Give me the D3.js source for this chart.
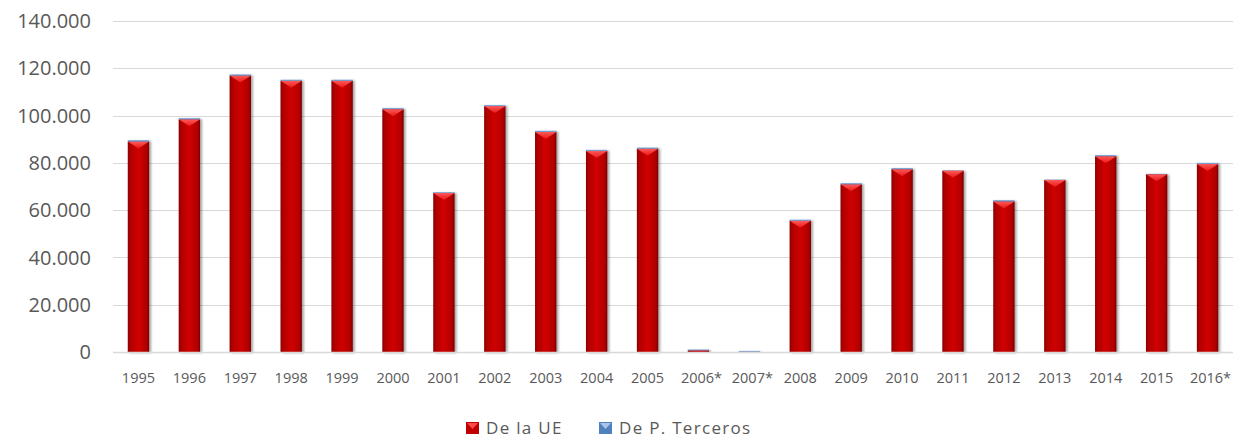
<!DOCTYPE html>
<html>
<head>
<meta charset="utf-8">
<script src="https://cdn.jsdelivr.net/npm/d3@7"></script>
<style>
  body { margin: 0; background: #fff; }
  text { font-family: "Open Sans", sans-serif; fill: #595959; }
</style>
</head>
<body>
<svg id="chart" width="1238" height="439"></svg>
<script>
// years (asterisk = provisional)
const years = ["1995","1996","1997","1998","1999","2000","2001","2002","2003","2004","2005",
  "2006*","2007*","2008","2009","2010","2011","2012","2013","2014","2015","2016*"];
// De la UE
const fromEU = [89000, 98400, 116900, 114700, 114700, 102700, 67300, 104000, 93100, 85000, 86000,
  700, 100, 55500, 70900, 77300, 76700, 63700, 72800, 82800, 75200, 79500];
// De P. Terceros
const fromThird = [700, 600, 600, 550, 550, 550, 350, 500, 550, 550, 550,
  450, 400, 550, 600, 550, 150, 600, 200, 550, 200, 550];
const yTicks = [0, 20000, 40000, 60000, 80000, 100000, 120000, 140000];
const seriesNames = ["De la UE", "De P. Terceros"];

const svg = d3.select("#chart");
const plotL = 113, plotR = 1233, plotT = 21, plotB = 352;

const x = d3.scaleBand().domain(years).range([plotL, plotR]).paddingInner(0.58).paddingOuter(0.29);
const y = d3.scaleLinear().domain([0, 140000]).range([plotB, plotT]);

const fmt = v => v === 0 ? "0" : d3.format(",")(v).replace(/,/g, ".");

// defs
const defs = svg.append("defs");
const redGrad = defs.append("linearGradient").attr("id", "red").attr("x1", 0).attr("x2", 1).attr("y1", 0).attr("y2", 0);
[[0, "#8a0000"], [0.12, "#b00000"], [0.5, "#d00000"], [0.88, "#b00000"], [1, "#7a0000"]]
  .forEach(s => redGrad.append("stop").attr("offset", s[0]).attr("stop-color", s[1]));
const triGrad = defs.append("linearGradient").attr("id", "tri").attr("x1", 0).attr("x2", 0).attr("y1", 0).attr("y2", 1);
[[0, "#ff5a5a"], [1, "#e81818"]].forEach(s => triGrad.append("stop").attr("offset", s[0]).attr("stop-color", s[1]));
const blueGrad = defs.append("linearGradient").attr("id", "blue").attr("x1", 0).attr("x2", 0).attr("y1", 0).attr("y2", 1);
[[0, "#a9c4e8"], [1, "#4f81bd"]].forEach(s => blueGrad.append("stop").attr("offset", s[0]).attr("stop-color", s[1]));
const shadow = defs.append("filter").attr("id", "shadow").attr("x", "-30%").attr("y", "-5%").attr("width", "160%").attr("height", "110%");
shadow.append("feDropShadow").attr("dx", 2).attr("dy", 1).attr("stdDeviation", 1.3)
  .attr("flood-color", "#000").attr("flood-opacity", 0.35);

// gridlines
svg.append("g").selectAll("line").data(yTicks.slice(1)).join("line")
  .attr("x1", plotL).attr("x2", plotR)
  .attr("y1", d => Math.round(y(d)) + 0.5).attr("y2", d => Math.round(y(d)) + 0.5)
  .attr("stroke", "#d9d9d9").attr("stroke-width", 1);

// y labels
svg.append("g").selectAll("text").data(yTicks).join("text")
  .attr("x", 91).attr("y", d => y(d)).attr("dy", "0.36em")
  .attr("text-anchor", "end").style("font-size", "20px")
  .text(fmt);

// bars
const rows = years.map((yr, i) => ({ yr, eu: fromEU[i], tp: fromThird[i] }));
const bars = svg.append("g").selectAll("g").data(rows).join("g").attr("filter", "url(#shadow)");
const bw = x.bandwidth();

bars.append("rect")
  .attr("x", d => x(d.yr)).attr("width", bw)
  .attr("y", d => y(d.eu)).attr("height", d => y(0) - y(d.eu))
  .attr("fill", "url(#red)");

bars.filter(d => y(0) - y(d.eu) > 8).append("path")
  .attr("d", d => {
    const x0 = x(d.yr), x1 = x0 + bw, t = y(d.eu), h = Math.min(7, (y(0) - t) / 2);
    return `M${x0},${t}L${x1},${t}L${x0 + bw / 2},${t + h}Z`;
  })
  .attr("fill", "url(#tri)");

bars.append("rect")
  .attr("x", d => x(d.yr)).attr("width", bw)
  .attr("y", d => y(d.eu + d.tp)).attr("height", d => y(d.eu) - y(d.eu + d.tp))
  .attr("fill", "url(#blue)");

// baseline
svg.append("line").attr("x1", plotL).attr("x2", plotR)
  .attr("y1", y(0) + 0.5).attr("y2", y(0) + 0.5)
  .attr("stroke", "#d9d9d9").attr("stroke-width", 1.5);

// x labels
svg.append("g").selectAll("text").data(years).join("text")
  .attr("x", d => x(d) + bw / 2 + (d.endsWith("*") ? 3 : 0)).attr("y", 383)
  .attr("text-anchor", "middle").style("font-size", "14.5px")
  .text(d => d);

// legend
const legend = svg.append("g");
const legX = [466, 599];
seriesNames.forEach((name, i) => {
  const g = legend.append("g").attr("transform", `translate(${legX[i]},422)`);
  g.append("rect").attr("width", 13).attr("height", 12)
    .attr("fill", i === 0 ? "#c00000" : "#4f81bd");
  g.append("path").attr("d", "M1,1L12,1L6.5,7Z")
    .attr("fill", i === 0 ? "#ff4a4a" : "#a9c4e8");
  g.append("text").attr("x", 20).attr("y", 11.5)
    .style("font-size", "17px").style("letter-spacing", "1.3px").text(name);
});
</script>
</body>
</html>
